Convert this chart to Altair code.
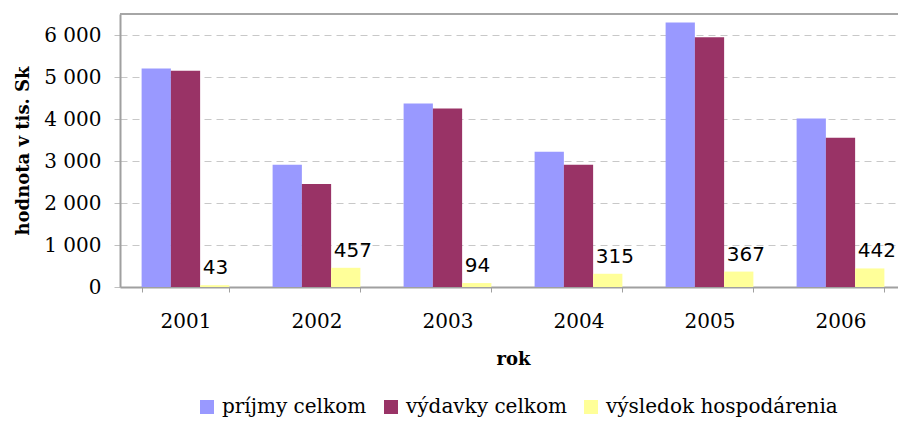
import altair as alt
import pandas as pd

roky = ["2001", "2002", "2003", "2004", "2005", "2006"]
prijmy = [5200, 2910, 4370, 3220, 6300, 4010]
vydavky = [5150, 2455, 4250, 2910, 5945, 3555]
vysledok = [43, 457, 94, 315, 367, 442]
serie = ["príjmy celkom", "výdavky celkom", "výsledok hospodárenia"]
farby = ["#9999FF", "#993366", "#FFFF99"]
y_ticks = [0, 1000, 2000, 3000, 4000, 5000, 6000]

rows = []
for i, r in enumerate(roky):
    for s, vals in zip(serie, [prijmy, vydavky, vysledok]):
        rows.append({"rok": r, "ukazovatel": s, "hodnota": vals[i]})
df = pd.DataFrame(rows)

serif = "DejaVu Serif"
W = 778      # visible plot width (the window clips the rest)
FULL = 786   # full band range width, extends past the window edge
H = 273

x_enc = alt.X(
    "rok:N",
    sort=roky,
    title="rok",
    scale=alt.Scale(range=[0, FULL], paddingInner=0.33, paddingOuter=0.165),
    axis=alt.Axis(
        labelAngle=0,
        labelFont=serif,
        labelFontSize=20,
        labelColor="#000000",
        labelPadding=19,
        tickBand="extent",
        tickSize=5,
        tickColor="#a0a0a0",
        domainColor="#a0a0a0",
        domainWidth=2,
        titleFont=serif,
        titleFontSize=18,
        titleFontWeight="bold",
        titleColor="#000000",
        titlePadding=19,
        grid=False,
    ),
)
xoff = alt.XOffset("ukazovatel:N", sort=serie, scale=alt.Scale(paddingInner=0, paddingOuter=0))
y_enc = alt.Y(
    "hodnota:Q",
    title="hodnota v tis. Sk",
    scale=alt.Scale(domain=[0, 6500], nice=False),
    axis=alt.Axis(
        values=y_ticks,
        labelExpr="datum.value >= 1000 ? floor(datum.value / 1000) + ' 000' : '0'",
        labelFont=serif,
        labelFontSize=20,
        labelColor="#000000",
        labelPadding=13,
        tickSize=6,
        tickColor="#c0c0c0",
        domainColor="#a0a0a0",
        domainWidth=2,
        grid=True,
        gridColor="#c8c8c8",
        gridDash=[7, 5],
        gridWidth=1,
        titleFont=serif,
        titleFontSize=18,
        titleFontWeight="bold",
        titleColor="#000000",
        titlePadding=11,
    ),
)

bars = alt.Chart(df).mark_bar().encode(
    x=x_enc,
    xOffset=xoff,
    y=y_enc,
    color=alt.Color(
        "ukazovatel:N",
        sort=serie,
        scale=alt.Scale(domain=serie, range=farby),
        legend=alt.Legend(
            title=None,
            orient="none",
            legendX=77,
            legendY=383,
            direction="horizontal",
            symbolType="square",
            symbolSize=196,
            symbolStrokeWidth=0,
            labelFont=serif,
            labelFontSize=20,
            labelColor="#000000",
            labelOffset=5,
            labelLimit=0,
            columnPadding=14,
        ),
    ),
)

labels = alt.Chart(df).transform_filter(
    alt.datum.ukazovatel == "výsledok hospodárenia"
).mark_text(
    font="DejaVu Sans", fontSize=20, color="#000000", baseline="alphabetic",
    align="left", dx=-12, dy=-11
).encode(
    x=alt.X("rok:N", sort=roky),
    xOffset=alt.XOffset("ukazovatel:N", sort=serie),
    y="hodnota:Q",
    text="hodnota:Q",
)

frame_top = alt.Chart(df).mark_rule(color="#a6a6a6", strokeWidth=2).encode(
    x=alt.value(0), x2=alt.value(W), y=alt.value(0)
)

chart = alt.layer(bars, labels, frame_top).properties(
    width=W,
    height=H,
    autosize=alt.AutoSizeParams(type="none"),
    padding={"left": 112, "top": 6, "right": 0, "bottom": 132},
).configure_view(
    stroke=None
).configure(background="#ffffff")

chart.save("out.html", embed_options={"renderer": "svg", "actions": False})
